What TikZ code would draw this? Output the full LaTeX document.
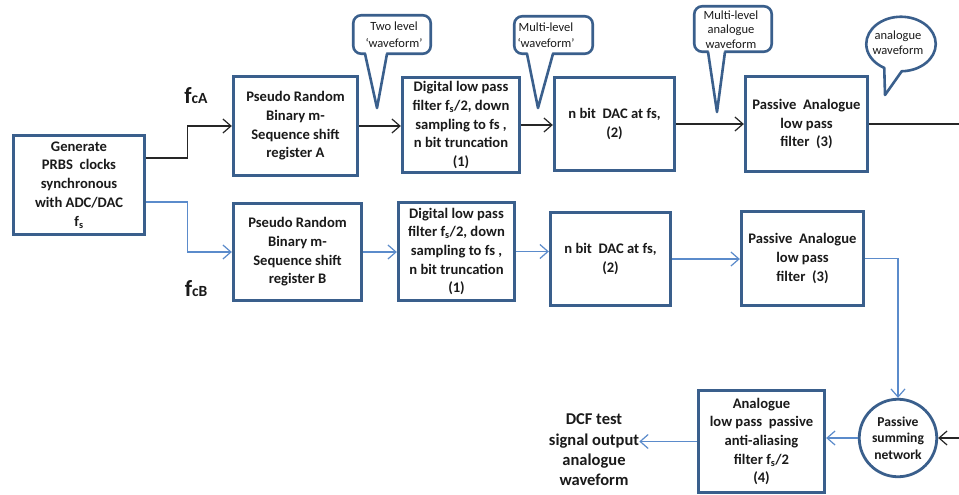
\documentclass[tikz,border=0pt]{standalone}
\usepackage{fontspec}
\setmainfont{Carlito}
\usetikzlibrary{arrows.meta,shapes.geometric,shapes.callouts}
\definecolor{boxblue}{HTML}{3A5F8C}
\definecolor{arrblue}{HTML}{5B8BCB}
\definecolor{txt}{HTML}{1A1A1A}
\begin{document}
\begin{tikzpicture}[x=1pt,y=-1pt,
  box/.style={draw=boxblue,line width=2.8pt,fill=white,align=center,inner sep=0pt,
    text=txt,font=\fontsize{14.6}{18.7}\selectfont\bfseries},
  callbox/.style={draw=boxblue,line width=2.6pt,fill=white,rounded corners=8pt,
    inner sep=0pt,align=center,text=txt,font=\fontsize{12}{16.5}\selectfont},
  tail/.style={draw=boxblue,line width=2.6pt,line join=round},
  blk/.style={draw=black!85,line width=1.2pt,-{Straight Barb[length=8pt,width=14pt]}},
  blkline/.style={draw=black!85,line width=1.2pt},
  blu/.style={draw=arrblue,line width=1.2pt,-{Straight Barb[length=8pt,width=14pt]}},
  lbl/.style={inner sep=0pt,text=txt,align=center}
]
\useasboundingbox (0,0) rectangle (959,495);
\fill[white] (0,0) rectangle (959,495);

% main boxes
\node[box,minimum width=131.5pt,minimum height=99.5pt] (gen) at (79,185)
  {Generate\\PRBS\ \ clocks\\synchronous\\with ADC/DAC\\f\textsubscript{s}};
\node[box,minimum width=124.5pt,minimum height=99.5pt] (prA) at (295.5,126)
  {Pseudo Random\\Binary m-\\Sequence shift\\register A};
\node[box,minimum width=128.5pt,minimum height=97.5pt] (prB) at (297.5,252)
  {Pseudo Random\\Binary m-\\Sequence shift\\register B};
\node[box,minimum width=117.5pt,minimum height=95.5pt] (dlA) at (461,125)
  {Digital low pass\\filter f\textsubscript{s}/2, down\\sampling to fs ,\\n bit truncation\\(1)};
\node[box,minimum width=116.5pt,minimum height=98.5pt] (dlB) at (456.5,251.5)
  {Digital low pass\\filter f\textsubscript{s}/2, down\\sampling to fs ,\\n bit truncation\\(1)};
\node[box,minimum width=120.5pt,minimum height=93.5pt] (dacA) at (614.5,124)
  {n bit\ \ DAC at fs,\\(2)};
\node[box,minimum width=120.5pt,minimum height=93.5pt] (dacB) at (610.5,259)
  {n bit\ \ DAC at fs,\\(2)};
\node[box,minimum width=122.5pt,minimum height=95.5pt] (paA) at (806.5,124)
  {Passive\ \ Analogue\\low pass\\filter\ \ (3)};
\node[box,minimum width=122.5pt,minimum height=94.5pt] (paB) at (802.5,258.5)
  {Passive\ \ Analogue\\low pass\\filter\ \ (3)};
\node[box,minimum width=126.5pt,minimum height=102.5pt] (aaf) at (761.5,441.5)
  {Analogue\\low pass\ \ passive\\anti-aliasing\\filter f\textsubscript{s}/2\\(4)};
\node[box,circle,minimum size=77.5pt,font=\fontsize{13.6}{16.5}\selectfont\bfseries] (sum) at (898,438)
  {Passive\\summing\\network};

% output text
\node[lbl,font=\fontsize{16.5}{20.3}\selectfont\bfseries] (out) at (594,450)
  {DCF test\\signal output\\analogue\\waveform};

% clock labels
\node[lbl,anchor=base,font=\bfseries] (fA) at (196,103)
  {{\fontsize{23}{23}\selectfont f}{\fontsize{15.5}{15.5}\selectfont cA}};
\node[lbl,anchor=base,font=\bfseries] (fB) at (196,296)
  {{\fontsize{23}{23}\selectfont f}{\fontsize{15.5}{15.5}\selectfont cB}};

% edge coordinates (diagram runs off the right side)
\coordinate (eA) at (959,124);
\coordinate (eS) at (959,438);

% connectors row A
\draw[blk] ([yshift=27pt]gen.east) -- ++(41,0) |- (prA.west);
\draw[blk] (prA.east) -- (prA.east -| dlA.west);
\draw[blk] (dlA.east) -- (dlA.east -| dacA.west);
\draw[blk] (dacA.east) -- (dacA.east -| paA.west);
\draw[blkline] (paA.east) -- (paA.east -| eA);
% connectors row B
\draw[blu] ([yshift=-17pt]gen.east) -- ++(41,0) |- (prB.west);
\draw[blu] (prB.east) -- (prB.east -| dlB.west);
\draw[blu] (dlB.east) -- (dlB.east -| dacB.west);
\draw[blu] (dacB.east) -- (dacB.east -| paB.west);
\draw[blu] (paB.east) -| (sum.north);
% output chain
\draw[blk] (eS) -- (sum.east);
\draw[blu] (sum.west) -- (sum.west -| aaf.east);
\draw[blu] (aaf.west) -- (aaf.west -| out.east);

% callouts
\node[callbox,minimum width=77.5pt,minimum height=38.5pt] (c1) at (392,34.5) {};
\node[lbl,font=\fontsize{12.5}{16.5}\selectfont] (t1) at (394,34.5) {Two level\\‘waveform’};
\fill[white] (365.5,51) -- (377,107) -- (386.5,51) -- cycle;
\draw[tail] (365,53.75) -- (377,108) -- (387,53.75);

\node[callbox,minimum width=78.5pt,minimum height=37.5pt] (c2) at (553.5,35) {};
\node[lbl,font=\fontsize{12.5}{16.5}\selectfont] (t2) at (546,35) {Multi-level\\‘waveform’};
\fill[white] (527.5,51.5) -- (538,107) -- (552.5,51.5) -- cycle;
\draw[tail] (527,53.75) -- (538,108) -- (553,53.75);

\node[callbox,minimum width=77.5pt,minimum height=45.5pt] (c3) at (733,29) {};
\node[lbl,font=\fontsize{12.5}{14.5}\selectfont] (t3) at (731,29.5) {Multi-level\\analogue\\waveform};
\fill[white] (708.5,49.5) -- (717,111) -- (724.5,49.5) -- cycle;
\draw[tail] (708,51.75) -- (717,112) -- (725,51.75);

\node[ellipse callout,draw=boxblue,line width=2.6pt,fill=white,minimum width=69.5pt,
  minimum height=54.5pt,inner sep=0pt,callout absolute pointer={(885,95)},
  callout pointer arc=30,line join=round] (c4) at (901,44) {};
\node[lbl,font=\fontsize{12.5}{15}\selectfont] (t4) at (898,43) {analogue\\waveform};
\end{tikzpicture}
\end{document}
